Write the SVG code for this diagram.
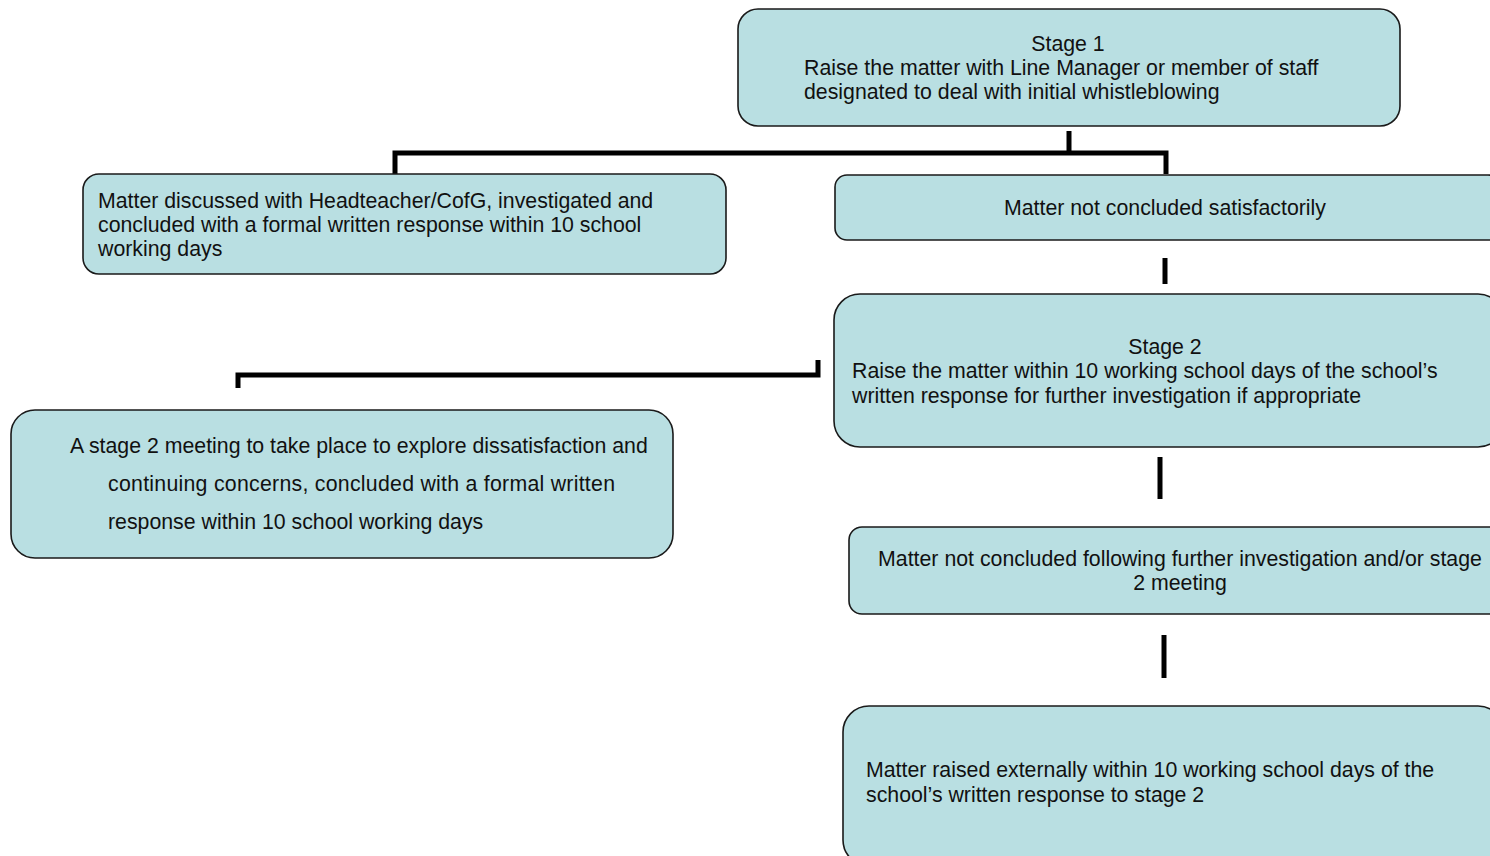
<svg xmlns="http://www.w3.org/2000/svg" width="1490" height="856" viewBox="0 0 1490 856">
<style>
.box{fill:#B9DFE2;stroke:#1a1a1a;stroke-width:1.6}
.t{font-family:"Liberation Sans",Arial,sans-serif;font-size:21.3px;fill:#111}
.c{text-anchor:middle}
.ln{fill:none;stroke:#000;stroke-width:5;stroke-linecap:butt;stroke-linejoin:miter}
</style>
<rect width="1490" height="856" fill="#fff"/>
<g id="connectors">
<path class="ln" d="M1069 131 V153"/>
<path class="ln" d="M395 174 V153 H1166 V174"/>
<path class="ln" d="M1165 258 V284"/>
<path class="ln" d="M818 360 V375 H238 V388"/>
<path class="ln" d="M1160 457 V499"/>
<path class="ln" d="M1164 635 V678"/>
</g>
<g id="stage1">
<rect class="box" x="738" y="9" width="662" height="117" rx="20"/>
<text class="t c" x="1068" y="51">Stage 1</text>
<text class="t" x="804" y="75">Raise the matter with Line Manager or member of staff</text>
<text class="t" x="804" y="99">designated to deal with initial whistleblowing</text>
</g>
<g id="concluded">
<rect class="box" x="83" y="174" width="643" height="100" rx="16"/>
<text class="t" x="98" y="208">Matter discussed with Headteacher/CofG, investigated and</text>
<text class="t" x="98" y="232">concluded with a formal written response within 10 school</text>
<text class="t" x="98" y="256">working days</text>
</g>
<g id="not-concluded">
<rect class="box" x="835" y="175" width="665" height="65" rx="12"/>
<text class="t c" x="1165" y="215">Matter not concluded satisfactorily</text>
</g>
<g id="stage2">
<rect class="box" x="834" y="294" width="670" height="153" rx="26"/>
<text class="t c" x="1165" y="354">Stage 2</text>
<text class="t" x="852" y="378">Raise the matter within 10 working school days of the school’s</text>
<text class="t" x="852" y="403">written response for further investigation if appropriate</text>
</g>
<g id="stage2-meeting">
<rect class="box" x="11" y="410" width="662" height="148" rx="24"/>
<text class="t" x="70" y="453">A stage 2 meeting to take place to explore dissatisfaction and</text>
<text class="t" x="108" y="491" textLength="507" lengthAdjust="spacing">continuing concerns, concluded with a formal written</text>
<text class="t" x="108" y="529">response within 10 school working days</text>
</g>
<g id="not-concluded-2">
<rect class="box" x="849" y="527" width="655" height="87" rx="13"/>
<text class="t c" x="1180" y="566">Matter not concluded following further investigation and/or stage</text>
<text class="t c" x="1180" y="590">2 meeting</text>
</g>
<g id="external">
<rect class="box" x="843" y="706" width="661" height="160" rx="26"/>
<text class="t" x="866" y="777">Matter raised externally within 10 working school days of the</text>
<text class="t" x="866" y="802">school’s written response to stage 2</text>
</g>
</svg>
